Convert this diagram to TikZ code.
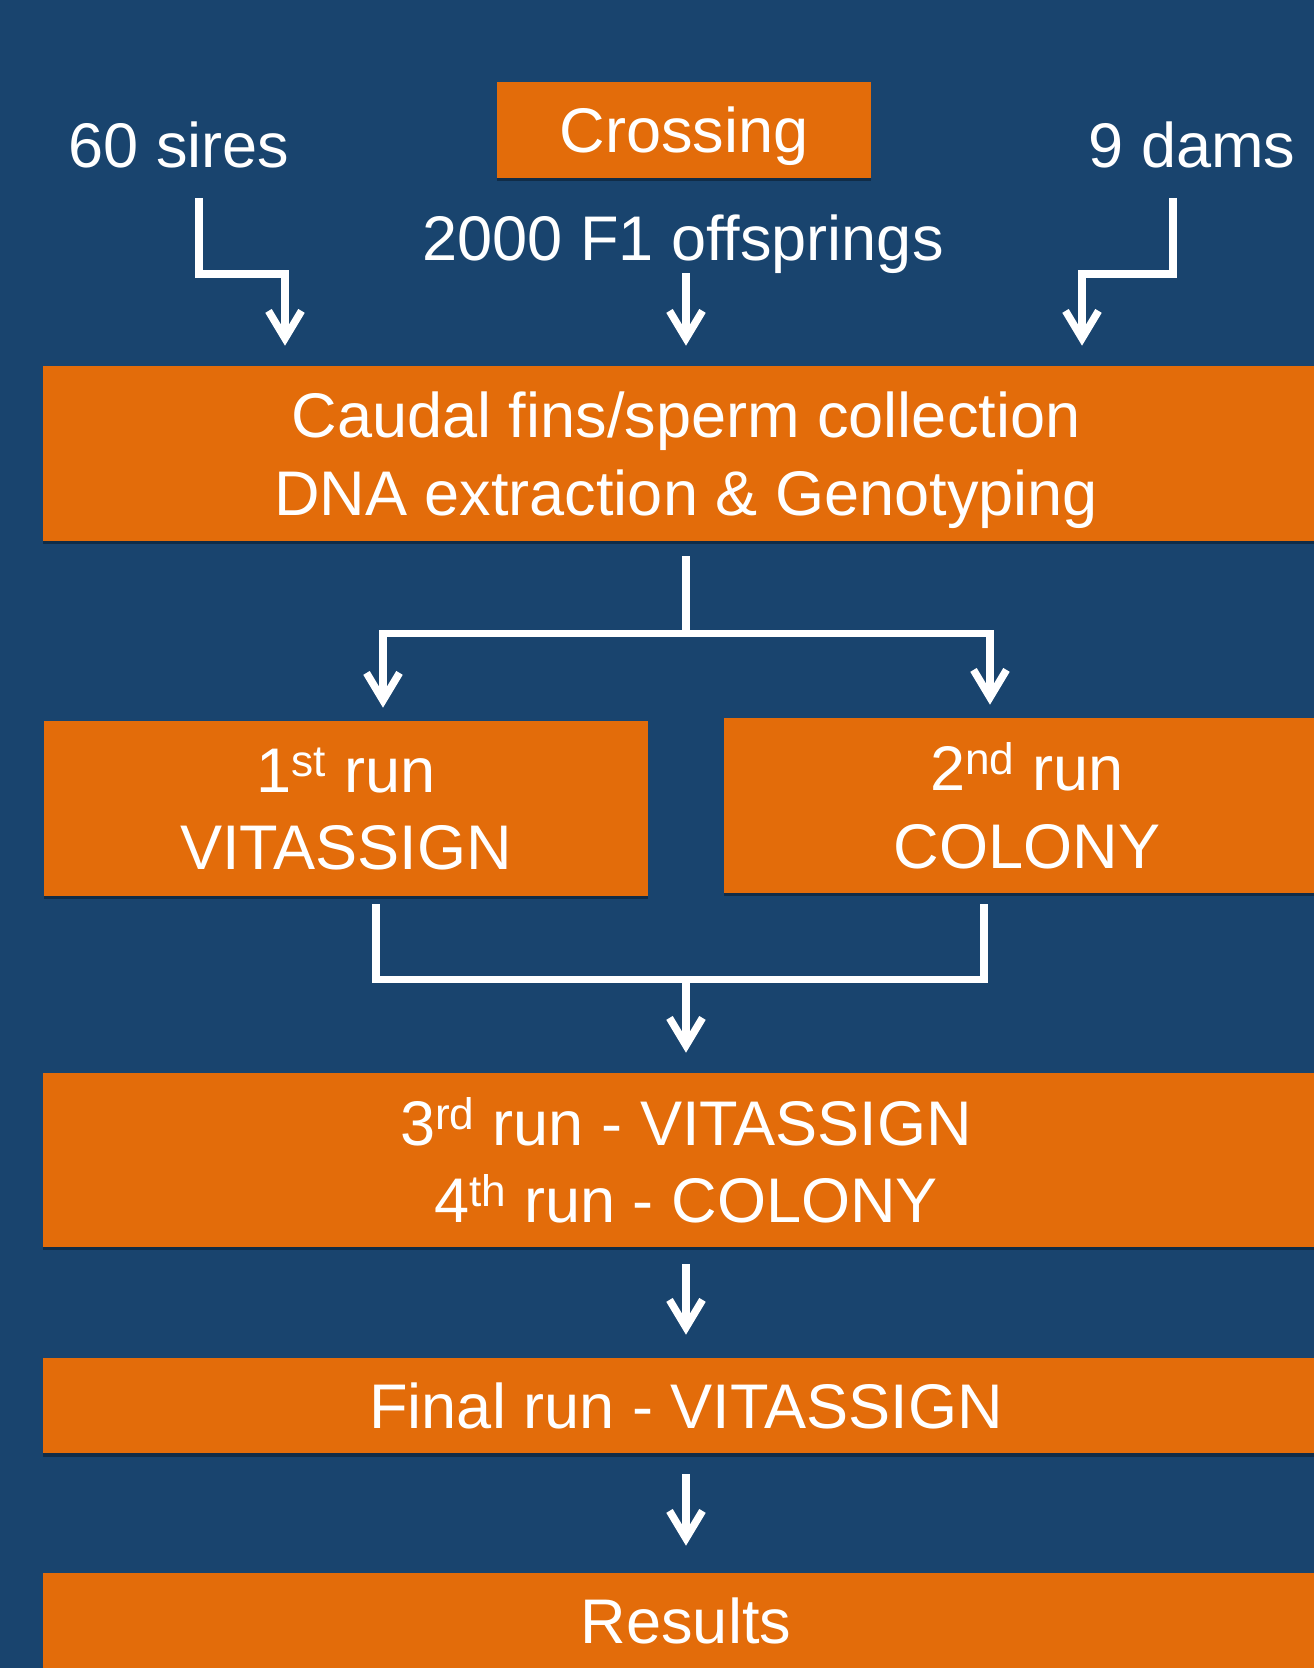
\documentclass[tikz,border=0pt]{standalone}
\usepackage{fontspec}
\setmainfont{Liberation Sans}
\usepackage{xcolor}
\usetikzlibrary{
	arrows.meta,
	positioning,
	calc,
	shadows
}
\definecolor{slide_blue}{RGB}{25,68,110}
\definecolor{box_orange}{RGB}{227,108,10}

\begin{document}
\begin{tikzpicture}[
    x=0.02cm, y=-0.02cm,
    stage_box/.style={
        rectangle,
        fill=box_orange,
        draw=none,
        text=white,
        inner sep=0pt,
        text depth=0pt,
        align=center,
        font=\fontsize{35.9}{44}\selectfont,
        drop shadow={shadow xshift=0cm, shadow yshift=-0.07cm, opacity=0.35, fill=black}
    },
    count_label/.style={
        text=white,
        inner sep=0pt,
        anchor=base,
        font=\fontsize{35.9}{44}\selectfont
    },
    plain_edge/.style={
        draw=white,
        line width=0.15cm
    },
    flow_edge/.style={
        plain_edge,
        -{Straight Barb[length=0.55cm, width=0.66cm]}
    }
]

    % ====== 背景 ======
    \fill[slide_blue] (0,0) rectangle (1314,1668);
    \useasboundingbox (0,0) rectangle (1314,1668);

    % ====== 顶部: 亲本与杂交 ======
    \node[stage_box, minimum width=7.48cm, minimum height=1.92cm] (crossing) at (684,130) {Crossing};
    \node[count_label] (sires) at (179,167) {60 sires};
    \node[count_label] (dams) at (1192,167) {9 dams};
    \node[count_label] (offspring) at (683,260) {2000 F1 offsprings};

    % 采样与分型
    \node[stage_box, minimum width=25.72cm, minimum height=3.5cm] (caudal) at (686,453.5) {Caudal fins/sperm collection\\DNA extraction \& Genotyping};

    % 进入采样的三条边
    \draw[flow_edge, shorten >=0.4cm] ($(sires.south)+(20,30)$) -- ++(0,76) -| ($(caudal.north)+(-401,0)$);
    \draw[flow_edge, shorten >=0.4cm] (offspring.south -| caudal.north) -- (caudal.north);
    \draw[flow_edge, shorten >=0.4cm] ($(dams.south)+(-19,30)$) -- ++(0,76) -| ($(caudal.north)+(396,0)$);

    % ====== 中部: 两次独立运行 ======
    \node[stage_box, minimum width=12.08cm, minimum height=3.5cm] (run1) at (346,808.5) {1\textsuperscript{st} run\\VITASSIGN};
    \node[stage_box, minimum width=12.12cm, minimum height=3.5cm] (run2) at (1027,805.5) {2\textsuperscript{nd} run\\COLONY};

    \draw[flow_edge, shorten >=0.26cm] ($(caudal.south)+(0,15)$) -- ++(0,77) -| ($(run1.north)+(37,0)$);
    \draw[flow_edge, shorten >=0.26cm] ($(caudal.south)+(0,15)$) -- ++(0,77) -| ($(run2.north)+(-37,0)$);

    % ====== 底部: 合并与最终运行 ======
    \node[stage_box, minimum width=25.72cm, minimum height=3.48cm] (run34) at (686,1160) {3\textsuperscript{rd} run - VITASSIGN\\4\textsuperscript{th} run - COLONY};
    \node[stage_box, minimum width=25.72cm, minimum height=1.9cm] (final) at (686,1405.5) {Final run - VITASSIGN};
    \node[stage_box, minimum width=25.72cm, minimum height=1.9cm] (results) at (686,1620.5) {Results};

    \draw[plain_edge] ($(run1.south)+(30,8)$) -- ++(0,75) coordinate (merge_left) -| ($(run2.south)+(-43,11)$);
    \draw[flow_edge, shorten >=0.4cm] (merge_left -| run34.north) -- (run34.north);
    \draw[flow_edge, shorten <=0.34cm, shorten >=0.46cm] (run34.south) -- (final.north);
    \draw[flow_edge, shorten <=0.42cm, shorten >=0.54cm] (final.south) -- (results.north);

\end{tikzpicture}
\end{document}
